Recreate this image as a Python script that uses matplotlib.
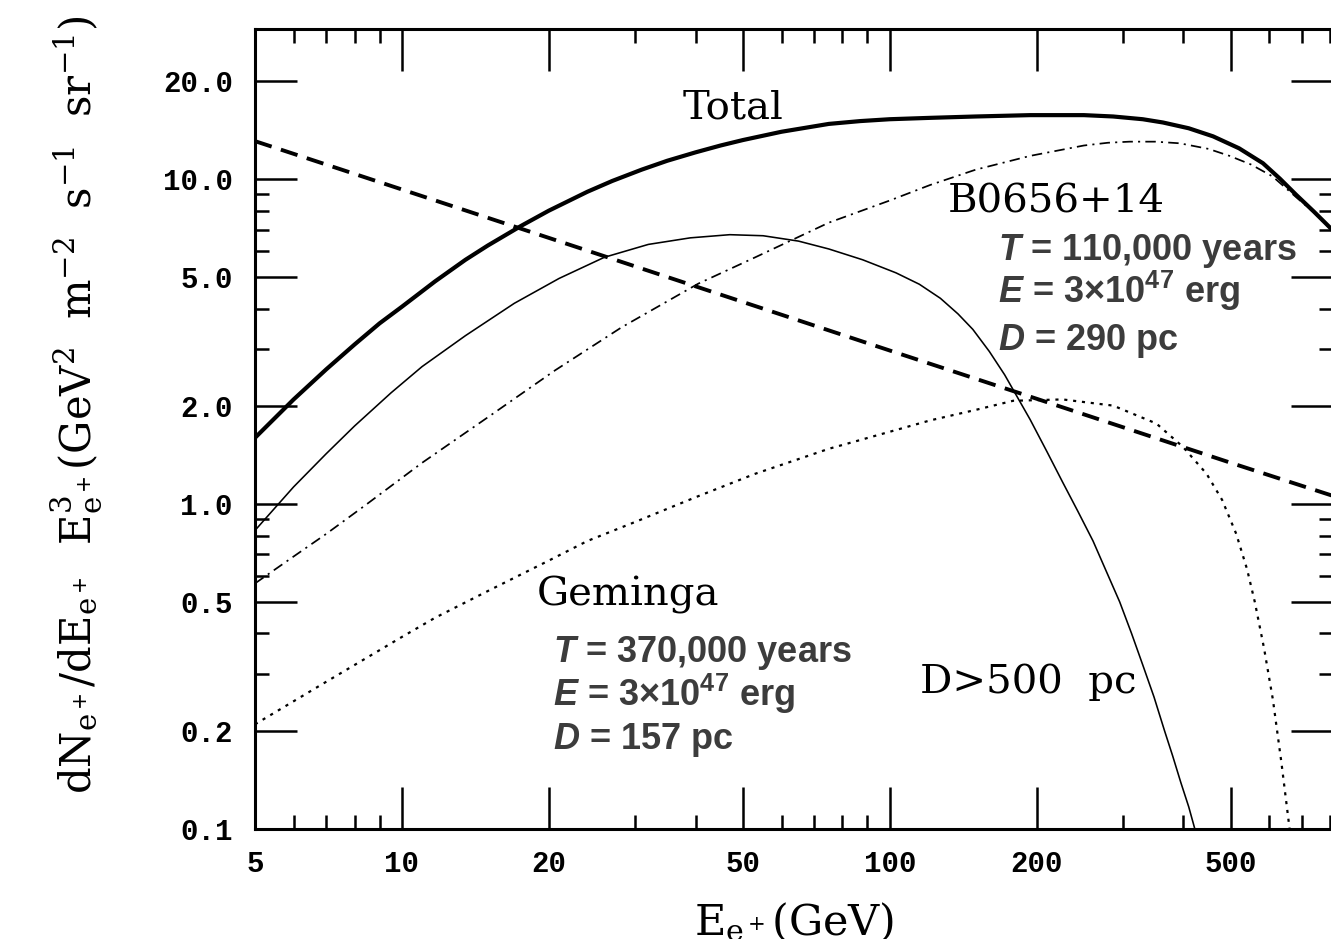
import matplotlib
matplotlib.use("Agg")
import matplotlib.pyplot as plt
from matplotlib.ticker import FixedLocator, FixedFormatter, NullFormatter

# bold sans for the pulsar parameter blocks (italic symbol via mathtext)
plt.rcParams['mathtext.fontset'] = 'custom'
plt.rcParams['mathtext.rm'] = 'Liberation Sans:bold'
plt.rcParams['mathtext.it'] = 'Liberation Sans:italic:bold'
plt.rcParams['mathtext.bf'] = 'Liberation Sans:bold'

# total positron flux from the nearby pulsars
e_total = [5, 6, 7, 8, 9, 10, 11.7, 13.5, 15, 17.6, 20, 24, 27, 31, 35, 40, 45, 50, 60, 75, 87, 100,
           121, 150, 194, 250, 287, 330, 363, 410, 460, 520, 582, 630, 681, 740, 810]
f_total = [1.6, 2.1, 2.6, 3.1, 3.6, 4.05, 4.85, 5.65, 6.25, 7.2, 8.0, 9.15, 9.88, 10.7, 11.4, 12.1,
           12.7, 13.2, 14.0, 14.8, 15.1, 15.3, 15.45, 15.6, 15.75, 15.75, 15.6, 15.3, 14.95, 14.35,
           13.55, 12.45, 11.2, 10.05, 8.95, 7.95, 6.95]

# secondary (background) positrons, power law
e_bkg = [5, 10, 20, 50, 100, 200, 500, 810]
f_bkg = [13.1, 9.3, 6.6, 4.19, 2.97, 2.11, 1.34, 1.06]

# Geminga, thin solid
e_gem = [5, 6, 7, 8, 9.5, 11, 13.5, 17, 21, 26, 32, 39, 47, 55, 65, 75, 88, 103, 115, 127, 138,
         148, 160, 172, 194, 210, 226, 243, 261, 278, 296, 313, 330, 348, 366, 380, 395, 410, 422]
f_gem = [0.83, 1.13, 1.43, 1.74, 2.2, 2.65, 3.3, 4.15, 4.95, 5.75, 6.3, 6.6, 6.75, 6.7, 6.45, 6.1,
         5.65, 5.15, 4.75, 4.3, 3.85, 3.45, 2.95, 2.5, 1.82, 1.45, 1.17, 0.95, 0.77, 0.62, 0.5, 0.4,
         0.32, 0.255, 0.2, 0.168, 0.139, 0.117, 0.1]

# B0656+14, dot-dash
e_b06 = [5, 6, 7, 8.4, 11, 15, 20.6, 28.2, 40.5, 53, 75, 100, 121, 150, 194, 250, 280, 310, 350,
         393, 450, 497, 550, 609, 681, 740, 810]
f_b06 = [0.57, 0.69, 0.81, 0.99, 1.34, 1.85, 2.58, 3.5, 4.77, 5.75, 7.35, 8.6, 9.6, 10.7, 11.8, 12.7,
         12.95, 13.05, 13.05, 12.9, 12.4, 11.8, 11.1, 10.2, 8.8, 7.9, 6.9]

# distant pulsars (D > 500 pc), dotted
e_far = [5, 7, 10, 11.7, 15, 20, 24, 30, 40, 53, 75, 100, 121, 150, 179, 226, 287, 352, 399, 446,
         480, 513, 540, 560, 585, 610, 635, 660]
f_far = [0.21, 0.284, 0.39, 0.447, 0.54, 0.67, 0.77, 0.88, 1.05, 1.24, 1.48, 1.67, 1.81, 1.95, 2.08,
         2.1, 2.01, 1.77, 1.5, 1.24, 1.03, 0.81, 0.63, 0.5, 0.36, 0.25, 0.16, 0.1]

x_major = [5, 10, 20, 50, 100, 200, 500]
x_major_labels = ['5', '10', '20', '50', '100', '200', '500']
x_minor = [6, 7, 8, 9, 30, 40, 60, 70, 80, 90, 300, 400, 600, 700, 800]
y_major = [0.1, 0.2, 0.5, 1, 2, 5, 10, 20]
y_major_labels = ['0.1', '0.2', '0.5', '1.0', '2.0', '5.0', '10.0', '20.0']
y_minor = [0.3, 0.4, 0.6, 0.7, 0.8, 0.9, 3, 4, 6, 7, 8, 9]

fig = plt.figure(figsize=(13.31, 9.39), dpi=100)
ax = fig.add_axes([255 / 1331, 110 / 939, 1078 / 1331, 800 / 939])

ax.plot(e_bkg, f_bkg, color='black', lw=2.8, dashes=(4.5, 2.5))
ax.plot(e_gem, f_gem, color='black', lw=1.15)
ax.plot(e_b06, f_b06, color='black', lw=1.25, dashes=(6, 3, 1.2, 3))
ax.plot(e_far, f_far, color='black', lw=1.6, dashes=(1.4, 2.6))
ax.plot(e_total, f_total, color='black', lw=3.0, solid_joinstyle='round')

ax.set_xscale('log')
ax.set_yscale('log')
ax.set_xlim(5, 810)
ax.set_ylim(0.1, 29)

ax.xaxis.set_major_locator(FixedLocator(x_major))
ax.xaxis.set_major_formatter(FixedFormatter(x_major_labels))
ax.xaxis.set_minor_locator(FixedLocator(x_minor))
ax.xaxis.set_minor_formatter(NullFormatter())
ax.yaxis.set_major_locator(FixedLocator(y_major))
ax.yaxis.set_major_formatter(FixedFormatter(y_major_labels))
ax.yaxis.set_minor_locator(FixedLocator(y_minor))
ax.yaxis.set_minor_formatter(NullFormatter())

ax.tick_params(which='both', direction='in', top=True, right=True, width=1.8, color='black')
ax.tick_params(which='major', length=30)
ax.tick_params(which='minor', length=10)
ax.tick_params(axis='y', which='major', pad=16)
ax.tick_params(axis='x', which='major', pad=15)
for lab in ax.get_xticklabels() + ax.get_yticklabels():
    lab.set_fontfamily('Liberation Mono')
    lab.set_fontweight('bold')
    lab.set_fontsize(21)
for sp in ax.spines.values():
    sp.set_linewidth(2.2)

ax.set_xlabel(r'$\mathrm{E_{e^+}(GeV)}$', fontsize=31, math_fontfamily='dejavuserif')
ax.xaxis.set_label_coords(0.50, -0.09)
ax.set_ylabel(r'$\mathrm{dN_{e^+}/dE_{e^+}\ \ E^3_{e^+}(GeV^2\ \ m^{-2}\ \ s^{-1}\ \ sr^{-1})}$',
              fontsize=30, math_fontfamily='dejavuserif')
ax.yaxis.set_label_coords(-0.14, 0.53)

# curve names
name = dict(family='DejaVu Serif', fontsize=29, color='black', ha='left', va='baseline',
            transform=ax.transAxes)
ax.text(0.397, 0.8875, 'Total', **name)
ax.text(0.6429, 0.77, 'B0656+14', **name)
ax.text(0.2616, 0.28, 'Geminga', **name)
ax.text(0.6169, 0.17, 'D>500  pc', **name)

# pulsar parameter blocks
par = dict(family='Liberation Sans', fontweight='bold', fontsize=26, color='#3c3c3c',
           ha='left', va='baseline', math_fontfamily='custom', transform=ax.transAxes)
for y, s in [(0.71125, r'$T$ = 110,000 years'), (0.6575, r'$E$ = 3×10$^{47}$ erg'),
             (0.59875, r'$D$ = 290 pc')]:
    ax.text(0.6892, y, s, **par)
for y, s in [(0.20875, r'$T$ = 370,000 years'), (0.15375, r'$E$ = 3×10$^{47}$ erg'),
             (0.10, r'$D$ = 157 pc')]:
    ax.text(0.2764, y, s, **par)

fig.savefig('out.png', dpi=100)
